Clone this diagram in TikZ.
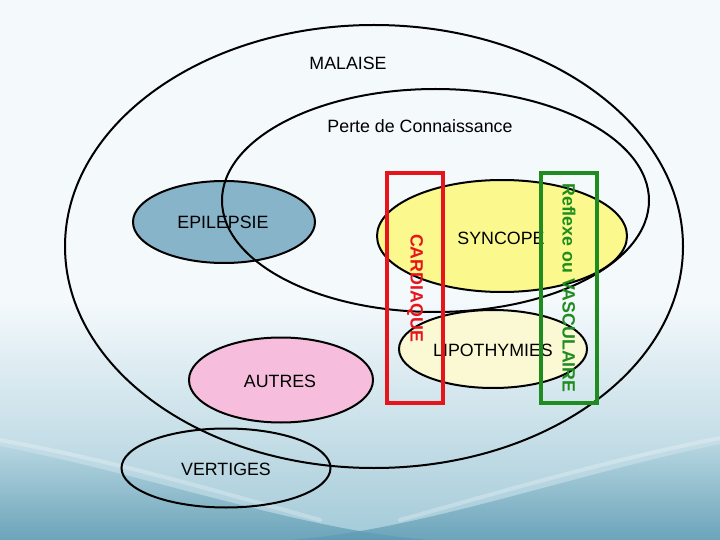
\documentclass[tikz,border=0pt]{standalone}
\usepackage{fontspec}
\setmainfont{Liberation Sans}
\usetikzlibrary{shapes.geometric}
\definecolor{bgtop}{HTML}{F4F9FC}
\definecolor{bgmid}{HTML}{A3CAD8}
\definecolor{bgdark}{HTML}{5A98B0}
\definecolor{bgdarktop}{HTML}{B2D4E0}
\definecolor{epifill}{HTML}{88B4C9}
\definecolor{syncfill}{HTML}{FBF88E}
\definecolor{lipofill}{HTML}{FAF9D4}
\definecolor{autfill}{HTML}{F6BEDC}
\definecolor{cardred}{HTML}{E8141B}
\definecolor{vasgreen}{HTML}{1E8C1E}
\tikzset{
  lbl/.style={font=\fontsize{17.8}{20}\selectfont, text=black, inner sep=0pt},
  ell/.style={ellipse, draw=black, line width=2pt, inner sep=0pt},
  bigell/.style={ellipse, draw=black, line width=2pt, inner sep=0pt},
  vbox/.style={rectangle, line width=4pt, inner sep=0pt, rotate=-90,
    minimum width=230pt, minimum height=56pt,
    font=\bfseries\fontsize{17.8}{20}\selectfont},
  wave/.style={top color=bgdarktop, bottom color=bgdark, fill opacity=0.75},
  streak/.style={white, opacity=0.25, line width=4pt, line cap=round}
}
\begin{document}
\begin{tikzpicture}[x=1pt,y=-1pt]
\useasboundingbox (0,0) rectangle (720,540);
% background
\fill[bgtop] (0,0) rectangle (720,540);
\shade[top color=bgtop, bottom color=bgmid] (0,300) rectangle (720,540);
\shade[wave]
  (0,446) .. controls (160,478) and (300,530) .. (430,540) -- (0,540) -- cycle;
\shade[wave]
  (720,444) .. controls (560,478) and (420,530) .. (290,540) -- (720,540) -- cycle;
\draw[streak] (0,440) .. controls (120,462) and (230,495) .. (320,520);
\draw[streak] (720,438) .. controls (600,462) and (490,495) .. (400,520);
% filled ellipses
\node[ell, fill=epifill, minimum width=182pt, minimum height=82pt] (epi) at (224,222) {};
\node[lbl] (tepi) at (223,222) {EPILEPSIE};
\node[ell, fill=syncfill, minimum width=250pt, minimum height=112pt] (sync) at (502,236) {};
\node[lbl] (tsync) at (501,238) {SYNCOPE};
\node[ell, fill=lipofill, minimum width=188pt, minimum height=78pt] (lipo) at (493,349) {};
\node[lbl] (tlipo) at (493,350) {LIPOTHYMIES};
\node[ell, fill=autfill, minimum width=184pt, minimum height=85pt] (aut) at (281,380) {};
\node[lbl] (taut) at (280,381) {AUTRES};
\node[ell, minimum width=209pt, minimum height=79pt] (vert) at (226,468) {};
\node[lbl] (tvert) at (226,469) {VERTIGES};
% big ellipses
\node[bigell, minimum width=618pt, minimum height=443pt] (malaise) at (374,246.5) {};
\node[bigell, minimum width=427pt, minimum height=223pt] (pc) at (435.5,200.5) {};
\node[lbl] (tmal) at (348,63) {MALAISE};
\node[lbl] (tpc) at (420,126) {Perte de Connaissance};
% boxes
\node[vbox, draw=cardred, text=cardred] (card) at (415,288) {CARDIAQUE};
\node[vbox, draw=vasgreen, text=vasgreen] (vasc) at (569,288) {Reflexe ou VASCULAIRE};
\end{tikzpicture}
\end{document}
